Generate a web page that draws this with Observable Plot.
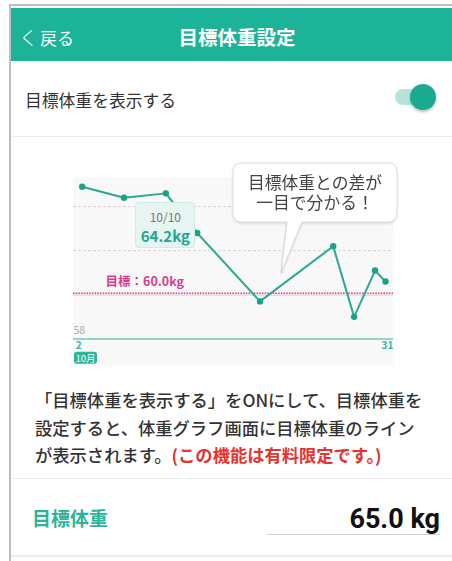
<!DOCTYPE html>
<html lang="ja">
<head>
<meta charset="utf-8">
<script src="https://cdn.jsdelivr.net/npm/d3@7"></script>
<script src="https://cdn.jsdelivr.net/npm/@observablehq/plot@0.6"></script>
<style>
  html, body { margin: 0; padding: 0; background: #fff; }
  body { width: 452px; height: 561px; overflow: hidden; }
  #page { position: relative; width: 452px; height: 561px; overflow: hidden;
          font-family: "Noto Sans CJK JP", "Noto Sans", sans-serif; color: #333; }
  .abs { position: absolute; }
  .sep { position: absolute; left: 11px; width: 441px; height: 1.5px; background: #ececec; }
</style>
</head>
<body>
<div id="page">
  <div class="abs" style="left:9px;top:4px;width:443px;height:2px;background:#bdbdbd"></div>
  <div class="abs" style="left:9px;top:4px;width:2px;height:557px;background:#bdbdbd"></div>
  <div class="abs" style="left:11px;top:8px;width:441px;height:53px;background:#1cb398"></div>
  <div class="abs" id="back" style="left:19px;top:24px;height:26px;line-height:26px;color:#fff;font-size:17px;white-space:nowrap"></div>
  <div class="abs" id="title" style="left:137px;width:200px;top:22px;height:30px;line-height:30px;text-align:center;color:#fff;font-size:19.5px;font-weight:bold;white-space:nowrap"></div>

  <div class="abs" id="rowLabel" style="left:25px;top:86px;height:28px;line-height:28px;font-size:16.8px;color:#333;white-space:nowrap"></div>
  <div class="abs" style="left:395px;top:89px;width:34px;height:16px;border-radius:8px;background:#b5e4da"></div>
  <div class="abs" style="left:410px;top:84px;width:26px;height:26px;border-radius:13px;background:#19aa8f;box-shadow:0 2px 3px rgba(0,0,0,0.25)"></div>
  <div class="sep" style="top:135.5px"></div>

  <div class="abs" id="chart" style="left:60px;top:160px;width:340px;height:215px"></div>

  <div class="abs" id="para" style="left:35px;top:386px;width:415px;font-size:17.3px;line-height:27.5px;color:#333;font-weight:500;white-space:nowrap"></div>
  <div class="sep" style="top:477.5px"></div>

  <div class="abs" id="fieldLabel" style="left:32px;top:503px;height:30px;line-height:30px;font-size:19px;font-weight:bold;color:#2db39b;white-space:nowrap"></div>
  <div class="abs" id="fieldValue" style="right:12px;top:503px;height:32px;line-height:32px;font-size:27px;font-weight:bold;color:#111;font-family:Roboto, 'Noto Sans', sans-serif;white-space:nowrap"></div>
  <div class="abs" style="left:267px;top:533.5px;width:173px;height:1.5px;background:#cfcfcf"></div>
  <div class="sep" style="top:555px"></div>
</div>

<script>
// ---- data ----
const days = [2, 6, 10, 13, 19, 26, 28, 30, 31];
const weights = [64.9, 64.4, 64.6, 62.8, 59.7, 62.2, 59.0, 61.1, 60.6];
const gridValues = [62, 64];
const targetWeight = 60.0;
const yMin = 58;
const yMax = 64;
const xFirst = 2;
const xLast = 31;
const monthLabel = "10月";
const targetLabel = "目標：60.0kg";
const tipDay = 10;
const tipDate = "10/10";
const tipValue = "64.2kg";
const calloutLines = ["目標体重との差が", "一目で分かる！"];

const backText = "く戻る";
const titleText = "目標体重設定";
const rowText = "目標体重を表示する";
const paraLines = ["「目標体重を表示する」をONにして、目標体重を", "設定すると、体重グラフ画面に目標体重のライン", "が表示されます。"];
const paraRed = "(この機能は有料限定です。)";
const fieldLabel = "目標体重";
const fieldValue = "65.0 kg";

// ---- static texts ----
document.getElementById("back").innerHTML = '<span style="font-weight:300;font-size:19px;margin-right:2px">' + backText[0] + '</span>' + backText.slice(1);
document.getElementById("title").textContent = titleText;
document.getElementById("rowLabel").textContent = rowText;
document.getElementById("para").innerHTML = paraLines[0] + "<br>" + paraLines[1] + "<br>" + paraLines[2] +
  '<span style="color:#e53330;font-weight:bold">' + paraRed + '</span>';
document.getElementById("fieldLabel").textContent = fieldLabel;
document.getElementById("fieldValue").textContent = fieldValue;

// ---- chart ----
const data = days.map((d, i) => ({day: d, w: weights[i]}));
const teal = "#2aa893";
const pink = "#d63c8e";

const plot = Plot.plot({
  width: 340,
  height: 215,
  marginLeft: 13,
  marginRight: 7,
  marginTop: 17,
  marginBottom: 10,
  x: {domain: [xFirst, xLast], range: [21.7, 325], axis: null},
  y: {domain: [yMin, yMax], range: [178.4, 46.1], axis: null},
  style: {background: "transparent", overflow: "visible", fontFamily: "'Noto Sans CJK JP', 'Noto Sans', sans-serif"},
  marks: [
    Plot.frame({fill: "#f8f8f8", stroke: "none"}),
    Plot.ruleY(gridValues, {stroke: "#d2d2d2", strokeDasharray: "3,2", strokeWidth: 1}),
    Plot.ruleY([targetWeight], {stroke: "#f2bcd6", strokeWidth: 1, dy: 0.3}),
    Plot.ruleY([targetWeight], {stroke: pink, strokeWidth: 1.6, strokeDasharray: "1.5,1.2", dy: -1.6}),
    Plot.text([targetWeight], {y: d => d, frameAnchor: "left", dx: 32, dy: -12.5, text: () => targetLabel,
      textAnchor: "start", fill: pink, fontSize: 12.5, fontWeight: "bold"}),
    Plot.ruleY([yMin], {stroke: "#6fcabb", strokeWidth: 1.5}),
    Plot.text([yMin], {y: d => d, frameAnchor: "left", dx: 0, dy: -8.5, text: d => String(d),
      textAnchor: "start", fill: "#aaaaaa", fontSize: 10.5}),
    Plot.text([xFirst], {x: d => d, y: () => yMin, dx: -3.5, dy: 6.8, text: d => String(d),
      fill: "#35b7a1", fontSize: 10, fontWeight: "bold"}),
    Plot.text([xLast], {x: d => d, y: () => yMin, dx: 2, dy: 6.8, text: d => String(d),
      fill: "#35b7a1", fontSize: 10, fontWeight: "bold"}),
    Plot.text([xFirst], {x: d => d, y: () => yMin, dx: 3.3, dy: 19.8, text: () => monthLabel,
      fill: "#ffffff", fontSize: 9.5}),
    Plot.line(data, {x: "day", y: "w", stroke: teal, strokeWidth: 2}),
    Plot.dot(data, {x: "day", y: "w", r: 3.2, fill: "#1e9f88", stroke: "none"})
  ]
});
const chart = document.getElementById("chart");
chart.appendChild(plot);

// month badge background
const svg = chart.querySelector("svg");
svg.querySelectorAll("text").forEach(t => {
  if (t.textContent === monthLabel) {
    const bb = t.getBBox();
    const r = document.createElementNS("http://www.w3.org/2000/svg", "rect");
    r.setAttribute("x", bb.x - 1.5);
    r.setAttribute("y", bb.y + 1);
    r.setAttribute("width", bb.width + 3);
    r.setAttribute("height", bb.height - 2);
    r.setAttribute("rx", 3);
    r.setAttribute("fill", "#2db59c");
    const tr = t.getAttribute("transform");
    if (tr) r.setAttribute("transform", tr);
    t.parentNode.insertBefore(r, t);
  }
});

// tooltip anchored to the point of tipDay via the plot's scales
const sx = plot.scale("x"), sy = plot.scale("y");
const tipPoint = data.find(d => d.day === tipDay);
const tx = 60 + sx.apply(tipDay), ty = 160 + sy.apply(tipPoint.w);
const tip = document.createElement("div");
tip.className = "abs";
tip.style.cssText = `left:${tx - 30}px;top:${ty + 9}px;width:60px;height:46px;background:#e6f4f2;border:1px solid #d3ebe6;border-radius:4px;box-sizing:border-box;text-align:center;white-space:nowrap`;
tip.innerHTML = `<div style="font-size:12px;color:#777;line-height:14px;margin-top:7px">${tipDate}</div>` +
  `<div style="font-size:15px;color:#25a58d;font-weight:bold;line-height:18px;margin-top:3px">${tipValue}</div>`;
document.getElementById("page").appendChild(tip);

// callout bubble (box, tail and text in one overlay svg)
const NS = "http://www.w3.org/2000/svg";
const co = document.createElementNS(NS, "svg");
co.setAttribute("width", 180); co.setAttribute("height", 125);
co.style.cssText = "position:absolute;left:226px;top:157px;overflow:visible;filter:drop-shadow(0 1px 1.2px rgba(0,0,0,0.13))";
co.innerHTML =
  '<rect x="7" y="6" width="164" height="59" rx="8" fill="#fff" stroke="#dcdcdc" stroke-width="1"/>' +
  '<polygon points="61,64 76,64 55,116" fill="#fff"/>' +
  '<polyline points="61,65 55,116 76,65" fill="none" stroke="#d6d6d6" stroke-width="1"/>' +
  '<text text-anchor="middle" font-size="16.8" fill="#444" font-family="Noto Sans CJK JP, Noto Sans, sans-serif">' +
  '<tspan x="89" y="32">' + calloutLines[0] + '</tspan>' +
  '<tspan x="89" y="52">' + calloutLines[1] + '</tspan></text>';
document.getElementById("page").appendChild(co);
</script>
</body>
</html>
